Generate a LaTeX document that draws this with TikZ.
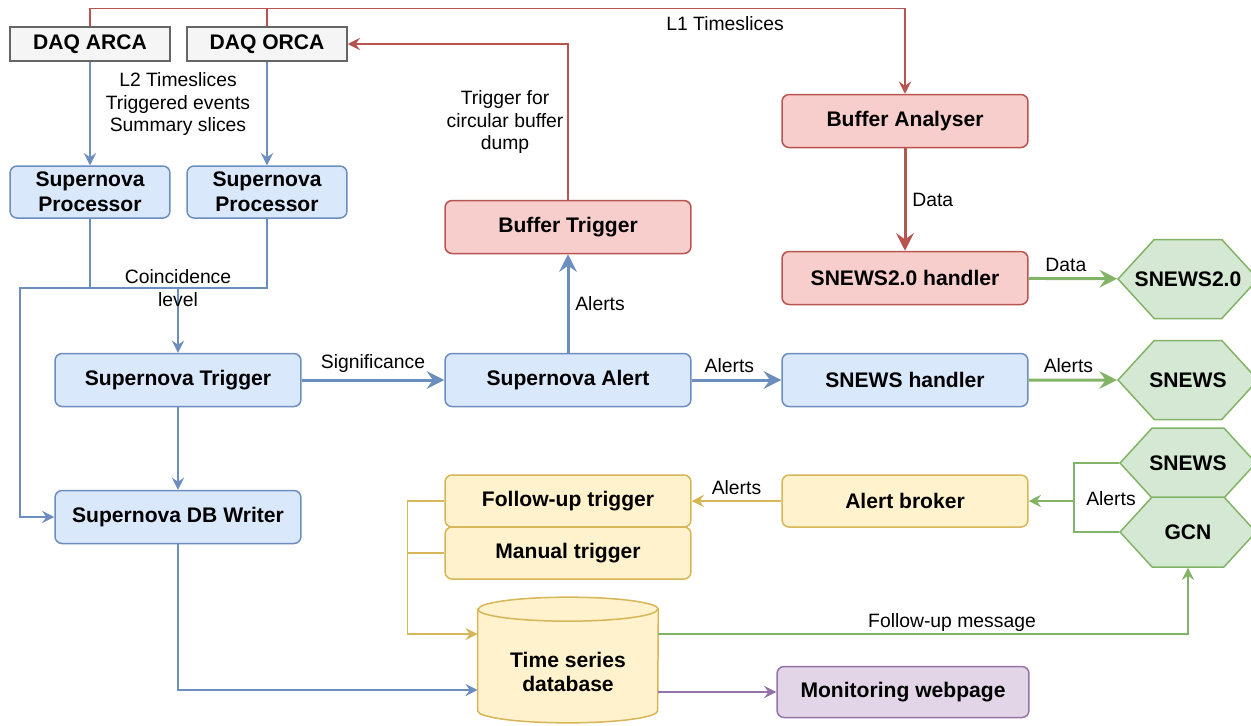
\documentclass[tikz,border=0pt]{standalone}
\usepackage{fontspec}
\setmainfont{Liberation Sans}
\usetikzlibrary{arrows.meta, shapes.symbols, backgrounds}

\definecolor{blueF}{HTML}{DAE8FC}
\definecolor{blueL}{HTML}{6C8EBF}
\definecolor{redF}{HTML}{F8CECC}
\definecolor{redL}{HTML}{B85450}
\definecolor{greenF}{HTML}{D5E8D4}
\definecolor{greenL}{HTML}{82B366}
\definecolor{yellowF}{HTML}{FFF2CC}
\definecolor{yellowL}{HTML}{D6B656}
\definecolor{purpleF}{HTML}{E1D5E7}
\definecolor{purpleL}{HTML}{9673A6}
\definecolor{grayF}{HTML}{F5F5F5}
\definecolor{grayL}{HTML}{666666}

\begin{document}
\begin{tikzpicture}[x=0.02cm, y=-0.02cm,
  box/.style={draw, rounded corners=4pt, line width=0.85pt, minimum width=4.92cm, minimum height=1.06cm, align=center, font=\bfseries\fontsize{12}{14}\selectfont},
  bluebox/.style={box, draw=blueL, fill=blueF},
  redbox/.style={box, draw=redL, fill=redF},
  yellowbox/.style={box, draw=yellowL, fill=yellowF, minimum height=1.04cm},
  purplebox/.style={box, draw=purpleL, fill=purpleF, minimum width=5.04cm, minimum height=1.02cm},
  procbox/.style={bluebox, minimum width=3.2cm, minimum height=1.04cm},
  daqbox/.style={box, rounded corners=0pt, draw=grayL, fill=grayF, minimum width=3.2cm, minimum height=0.68cm},
  hexa/.style={signal, signal to=west and east, signal pointer angle=95, draw=greenL, fill=greenF, line width=0.85pt, minimum width=2.8cm, minimum height=1.58cm, inner sep=0pt, font=\bfseries\fontsize{12}{14}\selectfont},
  lbl/.style={font=\fontsize{11}{12.8}\selectfont, align=center, text=black},
  plain/.style={line width=0.85pt},
  conn/.style={line width=0.85pt, -{Stealth[length=7pt, width=7pt, inset=2.5pt]}},
  thickconn/.style={line width=1.7pt, -{Stealth[length=10pt, width=10pt, inset=3.5pt]}}]
\useasboundingbox (0,0) rectangle (1251,725);

\node[daqbox] (daqarca) at (90,44) {DAQ ARCA};
\node[daqbox] (daqorca) at (267,44) {DAQ ORCA};
\node[procbox] (spa) at (90,192) {Supernova\\Processor};
\node[procbox] (spo) at (267,192) {Supernova\\Processor};
\node[bluebox] (sntrig) at (178,380) {Supernova Trigger};
\node[bluebox] (sndb) at (178,517) {Supernova DB Writer};
\node[bluebox] (snalert) at (568,380) {Supernova Alert};
\node[redbox] (buftrig) at (568,227) {Buffer Trigger};
\node[redbox] (bufana) at (905,121) {Buffer Analyser};
\node[redbox] (s2handler) at (905,278) {SNEWS2.0 handler};
\node[bluebox] (snhandler) at (905,380) {SNEWS handler};
\node[yellowbox] (alertbroker) at (905,501) {Alert broker};
\node[yellowbox] (futrig) at (568,501) {Follow-up trigger};
\node[yellowbox] (mantrig) at (568,553) {Manual trigger};
\node[purplebox] (monweb) at (903,692) {Monitoring webpage};
\node[hexa] (hsnews2) at (1188,279) {\makebox[0pt]{SNEWS2.0}};
\node[hexa] (hsnews) at (1188,380) {\makebox[0pt]{SNEWS}};
\node[hexa, minimum width=2.72cm, minimum height=1.4cm] (hsnewsb) at (1188,463) {\makebox[0pt]{SNEWS}};
\node[hexa, minimum width=2.72cm, minimum height=1.4cm] (hgcn) at (1188,532) {\makebox[0pt]{GCN}};
\node[minimum width=3.6cm, minimum height=2.5cm, inner sep=0pt,
  label={[yshift=-0.24cm, align=center, font=\bfseries\fontsize{12}{14}\selectfont]center:Time series\\database}] (tsdb) at (568,660) {};

\begin{scope}[on background layer]
\draw[yellowL, fill=yellowF, line width=0.85pt] ([yshift=-0.24cm]tsdb.north west) -- ([yshift=0.24cm]tsdb.south west)
  arc[start angle=180, end angle=360, x radius=1.8cm, y radius=0.24cm] -- ([yshift=-0.24cm]tsdb.north east)
  arc[start angle=0, end angle=180, x radius=1.8cm, y radius=0.24cm] -- cycle;
\draw[yellowL, line width=0.85pt] ([yshift=-0.24cm]tsdb.north west) arc[start angle=180, end angle=360, x radius=1.8cm, y radius=0.24cm];
\end{scope}

\coordinate (coinc) at (178,288);
\coordinate (leftbus) at (20,288);
\coordinate (alertsjoin) at (1074,501);
\coordinate (dbtop) at ([yshift=0.52cm]tsdb.west);
\coordinate (dbbot) at ([yshift=-0.6cm]tsdb.west);
\coordinate (dbout) at ([yshift=0.52cm]tsdb.east);

\draw[conn, redL] (daqarca.north) -- ++(0,-18) -| (bufana.north);
\draw[plain, redL] (daqorca.north) -- ++(0,-18);
\node[lbl] at (725,24) {L1 Timeslices};
\draw[conn, redL] (buftrig.north) |- (daqorca.east);
\node[lbl] at (505,122) {Trigger for\\circular buffer\\dump};

\draw[conn, blueL] (daqarca) -- (spa);
\draw[conn, blueL] (daqorca) -- (spo);
\node[lbl] at (178,104) {L2 Timeslices\\Triggered events\\Summary slices};
\draw[plain, blueL] (spa.south) -- (spa.south |- coinc);
\draw[conn, blueL] (spo.south) |- (leftbus) |- (sndb.west);
\draw[conn, blueL] (coinc) -- (sntrig.north);
\node[lbl] at (coinc) {Coincidence\\level};
\draw[conn, blueL] (sntrig) -- (sndb);
\draw[thickconn, blueL] (sntrig) -- node[lbl, above] {Significance} (snalert);
\draw[thickconn, blueL] (snalert) -- node[lbl, right] {Alerts} (buftrig);
\draw[thickconn, blueL] (snalert) -- node[lbl, above, pos=0.42] {Alerts} (snhandler);
\draw[thickconn, greenL] (snhandler) -- node[lbl, above, pos=0.45] {Alerts} (hsnews);
\draw[thickconn, redL] (bufana) -- node[lbl, right] {Data} (s2handler);
\draw[thickconn, greenL] (s2handler) -- node[lbl, above, pos=0.42] {Data} (hsnews2);

\draw[plain, greenL] (hsnewsb.west) -- (hsnewsb.west -| alertsjoin) |- (hgcn.west);
\draw[conn, greenL] (alertsjoin) -- (alertbroker.east);
\node[lbl] at (1111,499) {Alerts};
\draw[conn, yellowL] (alertbroker) -- node[lbl, above] {Alerts} (futrig);

\draw[conn, yellowL] (futrig.west) -- ++(-37,0) |- (dbtop);
\draw[plain, yellowL] (mantrig.west) -- ++(-37,0);
\draw[conn, blueL] (sndb.south) |- (dbbot);
\draw[conn, greenL] (dbout) -| (hgcn.south);
\node[lbl] at (952,622) {Follow-up message};
\draw[conn, purpleL] (tsdb.east |- monweb) -- (monweb);
\end{tikzpicture}
\end{document}
